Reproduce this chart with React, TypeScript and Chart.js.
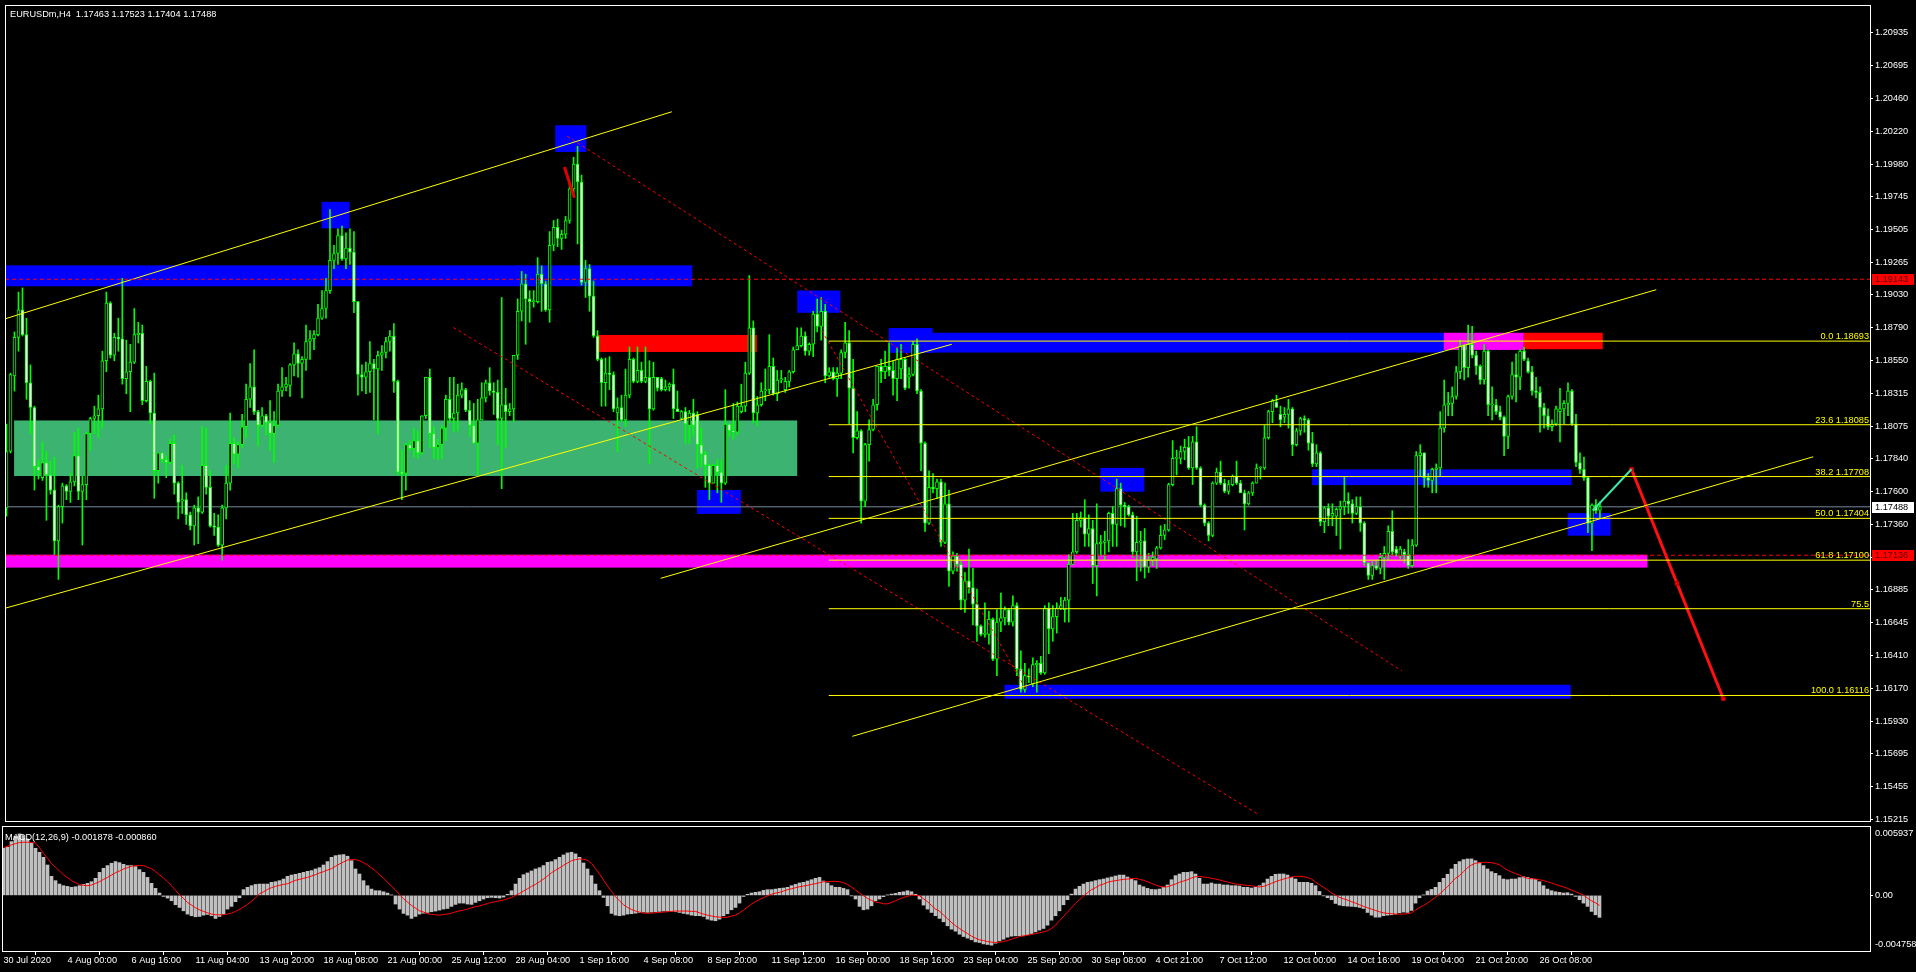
import React, { useEffect, useRef } from 'react';
import { Chart, registerables } from 'chart.js';

Chart.register(...registerables);

// EURUSDm H4 candles, prices in pips above 1.1000 (e.g. 746 -> 1.1746)
const opens = [
  748,789,844,872,892,874,839,821,778,770,781,772,761,724,749,764,760,767,786,760,
  765,802,813,815,820,855,897,859,872,871,842,847,854,874,875,826,840,817,775,788,
  783,781,795,766,753,754,743,735,748,745,779,763,735,734,721,748,766,795,787,794,
  807,827,836,818,808,815,810,802,808,833,836,837,852,860,853,856,869,871,874,886,
  893,906,928,933,946,929,937,934,898,845,843,847,853,849,859,861,869,873,840,774,
  773,794,791,797,788,815,843,802,792,794,806,827,813,817,830,834,819,808,795,812,
  828,839,833,832,813,823,818,820,859,891,911,900,898,898,918,911,892,939,952,944,
  947,957,980,998,985,912,922,902,873,856,839,846,845,817,821,812,830,856,840,848,
  840,843,820,843,842,834,836,838,820,813,818,808,817,816,794,787,779,766,779,774,
  766,809,804,803,818,822,846,879,817,823,833,834,851,831,841,834,840,847,863,866,
  873,862,867,889,880,891,844,847,842,846,861,868,835,799,804,753,794,805,823,851,
  847,851,848,842,849,856,843,845,867,833,795,737,763,762,767,723,751,702,713,707,
  681,695,690,678,662,656,656,667,638,665,668,674,665,677,631,616,626,620,634,635,
  628,675,660,669,675,674,681,707,716,739,741,729,733,706,722,723,724,744,736,762,
  750,749,743,716,723,724,705,710,711,719,728,732,765,784,784,789,792,777,796,777,
  750,737,728,766,774,766,760,765,771,766,759,751,759,766,777,777,799,818,825,816,
  814,816,820,794,804,813,812,795,780,788,738,748,742,742,747,749,753,751,744,749,
  737,708,699,706,704,712,715,731,718,713,716,714,706,721,786,788,770,768,776,777,
  806,823,824,829,847,866,850,867,859,851,841,862,823,823,818,814,800,829,845,843,
  862,855,847,833,832,821,815,807,809,818,820,824,833,809,781,776,770,737,750,746.3,
];
const highs = [
  809,846,876,905,908,886,852,822,783,796,789,782,785,750,766,765,773,803,806,771,
  803,814,822,830,862,905,898,875,886,915,870,867,893,883,881,851,841,846,788,788,
  786,798,801,767,779,759,745,750,756,807,806,775,744,743,750,779,817,799,796,816,
  838,853,863,819,821,816,826,818,838,850,843,853,868,863,858,881,877,877,896,906,
  915,965,939,951,953,948,951,949,898,852,854,869,856,862,866,872,877,882,841,790,
  795,797,806,804,815,843,849,807,798,808,830,843,843,838,839,835,826,824,827,839,
  841,850,839,841,901,835,824,859,900,920,918,906,906,930,924,913,949,957,958,950,
  960,985,1003,1011,990,928,925,913,877,857,857,858,847,828,830,849,865,857,865,854,
  865,855,854,843,843,841,839,849,833,819,821,819,827,818,806,789,780,780,783,783,
  834,809,824,825,838,854,917,884,829,839,849,874,857,848,848,843,848,865,879,879,
  876,868,891,900,901,896,850,850,850,863,883,877,856,818,805,795,812,827,851,856,
  862,868,855,864,867,857,850,869,871,834,796,775,773,769,769,766,761,716,715,709,
  701,718,704,689,663,679,673,668,674,686,676,675,684,679,644,635,631,639,637,640,
  677,679,677,679,683,683,714,744,744,745,754,743,739,751,728,731,745,749,769,766,
  752,750,745,742,731,733,715,716,720,735,736,766,797,790,793,798,800,800,807,778,
  751,738,767,777,782,769,768,772,782,768,761,760,767,780,778,808,819,827,830,822,
  821,827,821,806,814,815,813,803,794,789,749,751,751,748,753,771,759,754,756,756,
  738,708,709,710,715,720,735,746,720,720,718,725,725,789,794,788,773,777,780,818,
  841,832,836,851,870,867,881,880,862,852,867,863,836,827,822,815,830,854,860,863,
  865,857,851,843,836,824,820,812,822,835,826,839,834,816,788,785,771,751,754,752.3,
];
const lows = [
  742,788,833,862,873,827,802,761,769,768,739,758,714,696,737,754,752,764,754,721,
  754,790,802,799,806,847,857,855,862,838,831,818,853,868,823,825,809,755,766,781,
  770,780,758,740,744,736,732,721,722,744,758,734,728,720,710,740,761,780,777,792,
  799,821,816,793,807,801,790,781,807,829,833,829,844,843,828,848,856,863,873,885,
  886,904,922,925,928,922,925,890,830,833,831,832,812,802,848,857,862,832,772,754,
  761,790,785,784,787,813,792,784,783,784,797,810,803,804,828,818,800,795,772,812,
  825,830,816,794,762,792,815,811,856,884,867,883,894,897,891,891,883,935,938,936,
  944,955,975,940,910,901,891,872,855,822,822,834,818,789,811,807,828,839,839,839,
  839,780,819,833,833,833,833,813,818,812,795,795,800,777,778,763,754,766,759,752,
  765,800,798,801,817,818,845,810,808,822,826,831,830,826,839,832,836,846,863,865,
  859,859,858,876,870,839,843,841,829,842,857,809,788,798,737,749,782,804,819,839,
  842,844,830,826,842,834,835,844,831,775,731,736,759,755,720,722,691,700,702,674,
  672,686,663,651,655,654,649,637,626,658,663,663,662,626,614,614,621,618,614,627,
  627,642,651,657,674,665,665,707,715,734,720,720,693,684,713,710,716,720,720,735,
  734,742,712,695,702,697,701,706,704,718,725,731,764,772,780,783,776,765,776,749,
  735,724,727,765,765,759,758,764,765,759,732,750,757,766,769,776,798,810,821,807,
  810,806,786,793,801,803,790,778,778,735,730,735,735,728,718,743,744,737,743,731,
  706,696,696,703,700,696,710,713,713,711,708,704,705,720,771,763,763,759,759,771,
  803,815,815,827,842,841,843,857,845,838,838,815,812,816,812,786,791,827,825,834,
  855,846,830,828,803,806,805,804,808,796,809,815,808,778,773,768,730,717,744,740.4,
];
const closes = [
  789,845,872,892,874,839,821,778,775,781,772,761,724,749,764,760,767,786,760,765,
  802,813,815,820,855,897,859,872,871,842,847,854,874,875,826,840,817,775,788,783,
  781,795,766,752,754,743,735,748,745,779,763,735,734,721,748,766,795,787,794,807,
  827,836,818,808,815,810,802,808,833,836,838,852,860,853,856,869,871,874,886,893,
  906,928,933,946,929,937,934,898,845,843,847,853,849,859,861,869,873,840,774,773,
  794,791,797,788,815,843,802,792,794,806,827,813,817,830,834,819,808,795,812,828,
  839,833,832,813,823,818,820,859,891,911,900,898,898,918,911,892,939,952,944,947,
  957,980,998,985,912,922,902,873,856,839,846,845,820,821,812,830,856,840,848,840,
  843,820,843,835,834,836,838,820,818,818,809,817,808,794,787,779,766,779,774,766,
  809,804,803,822,822,846,879,817,823,833,834,851,831,841,842,840,847,863,866,873,
  862,867,889,880,891,844,847,842,846,861,868,835,799,804,753,794,805,823,851,847,
  851,848,842,856,856,835,845,867,833,795,737,763,762,767,723,751,702,713,707,681,
  695,690,678,662,656,657,667,638,665,668,674,665,677,631,616,626,625,634,635,628,
  675,660,669,675,677,681,707,716,739,741,729,733,706,722,723,724,744,736,762,750,
  749,743,716,723,724,705,710,712,719,728,732,765,784,784,789,792,777,796,777,750,
  737,728,766,774,766,760,765,771,766,759,751,759,766,777,777,799,818,826,821,812,
  816,820,794,804,813,812,795,780,788,738,748,742,744,747,749,753,751,744,749,737,
  708,699,706,704,712,715,731,716,715,718,714,706,721,786,788,770,768,776,777,806,
  823,824,829,847,866,850,867,859,851,841,862,823,823,818,814,800,829,845,843,862,
  856,847,833,832,821,815,807,809,820,820,824,833,809,781,776,770,737,750,746,748.8,
];

// MACD(12,26,9) main histogram per bar, in millionths
const macdHistogram = [
  4030,4120,4600,5060,5260,5120,4830,4490,4030,3690,3260,2600,1630,1260,970,830,770,690,740,830,
  940,1030,1170,1460,1970,2320,2550,2750,2890,2800,2660,2550,2550,2460,2200,1970,1540,1030,600,200,
  -90,-230,-460,-800,-1030,-1320,-1600,-1740,-1830,-1800,-1690,-1630,-1740,-1970,-1800,-1600,-1170,-940,-540,-200,
  490,690,830,940,970,970,970,1120,1170,1260,1400,1630,1740,1800,1890,1970,2060,2120,2260,2370,
  2600,2890,3260,3400,3460,3490,3350,2970,2260,1830,1260,830,540,400,400,310,200,30,-740,-1170,
  -1540,-1690,-1970,-1800,-1600,-1520,-1460,-1400,-1340,-1260,-1170,-1120,-940,-770,-660,-660,-740,-770,-600,-460,
  -310,-200,-170,-200,-230,-140,90,400,970,1460,1770,1920,2090,2260,2370,2550,2830,2890,3060,3260,
  3460,3630,3690,3550,3260,2770,2260,1690,970,400,-170,-890,-1540,-1690,-1740,-1690,-1600,-1570,-1520,-1460,
  -1430,-1460,-1430,-1400,-1370,-1340,-1340,-1370,-1400,-1460,-1540,-1600,-1690,-1740,-1740,-1800,-2030,-2120,-2170,-2030,
  -1740,-1570,-1230,-1030,-660,-90,90,200,260,310,430,490,490,540,600,630,690,830,940,1060,
  1120,1230,1340,1460,1540,1230,1060,830,690,690,600,490,-30,-310,-940,-1230,-1170,-890,-460,-310,
  -110,30,110,170,260,310,400,310,90,-310,-830,-1170,-1460,-1740,-1970,-2260,-2600,-2890,-3060,-3320,
  -3520,-3660,-3800,-3980,-4030,-4150,-4200,-4260,-4090,-3890,-3750,-3580,-3490,-3460,-3460,-3460,-3370,-3260,-3120,-2970,
  -2830,-2550,-2120,-1740,-1320,-800,-370,110,540,770,970,1120,1170,1260,1340,1400,1490,1570,1660,1740,
  1740,1570,1400,1260,890,740,600,510,490,540,690,890,1340,1690,1830,1970,1970,2030,1830,1460,
  970,970,1060,970,970,890,890,830,830,800,690,690,630,690,830,1060,1400,1630,1800,1830,
  1830,1740,1540,1400,1120,1120,1120,1030,830,340,-30,-200,-370,-690,-830,-890,-920,-940,-970,-1030,
  -1120,-1460,-1690,-1860,-1860,-1740,-1690,-1660,-1600,-1490,-1430,-1460,-1290,-660,-200,30,370,510,690,1120,
  1460,1800,2260,2660,2890,3060,3120,3120,2970,2800,2550,2260,2030,1890,1690,1400,1340,1400,1400,1520,
  1600,1540,1460,1370,1170,830,540,400,310,260,200,230,110,-90,-370,-660,-940,-1370,-1660,-1878,
];
// MACD signal line per bar, in millionths
const macdSignalLine = [
  4090,4200,4320,4430,4520,4550,4550,4520,4490,4090,3600,3170,2720,2400,2090,1770,1520,1260,1090,920,
  860,830,890,1030,1170,1370,1540,1740,1940,2090,2260,2370,2490,2550,2550,2550,2400,2290,2030,1770,
  1490,1170,830,430,60,-260,-600,-830,-1060,-1230,-1370,-1490,-1600,-1660,-1660,-1660,-1600,-1520,-1370,-1200,
  -1000,-770,-510,-200,140,310,510,660,770,860,940,1000,1140,1290,1370,1460,1540,1660,1770,1920,
  2030,2170,2290,2490,2690,2860,3030,3060,3060,2970,2800,2600,2350,2090,1770,1460,1120,800,460,60,
  -290,-570,-860,-1090,-1320,-1430,-1570,-1630,-1660,-1690,-1630,-1600,-1520,-1400,-1320,-1260,-1170,-1060,-970,-890,
  -800,-690,-600,-540,-460,-400,-290,-170,0,170,370,570,770,940,1170,1400,1660,1940,2150,2350,
  2570,2770,2970,3060,3120,3090,3000,2750,2290,1830,1320,800,340,-110,-460,-800,-1030,-1200,-1340,-1430,
  -1520,-1520,-1520,-1490,-1460,-1430,-1400,-1370,-1340,-1340,-1340,-1340,-1370,-1370,-1490,-1600,-1690,-1770,-1830,-1860,
  -1890,-1860,-1770,-1690,-1490,-1260,-1000,-740,-540,-340,-200,-30,90,200,260,370,490,570,660,740,
  800,860,940,1000,1090,1170,1170,1200,1200,1170,1090,920,720,460,200,-30,-260,-430,-570,-630,
  -720,-720,-600,-460,-310,-170,-90,30,0,-30,-290,-540,-860,-1170,-1340,-1690,-2000,-2320,-2600,-2830,
  -3060,-3260,-3490,-3660,-3800,-3860,-3950,-4000,-4030,-4000,-3950,-3860,-3750,-3630,-3520,-3460,-3400,-3350,-3260,-3200,
  -3120,-3030,-2830,-2550,-2170,-1800,-1430,-1060,-690,-370,-60,230,490,660,860,970,1120,1200,1260,1320,
  1370,1400,1430,1460,1370,1290,1170,1030,890,770,720,740,860,970,1120,1230,1340,1490,1600,1630,
  1570,1540,1460,1400,1320,1230,1140,1060,970,940,890,860,830,770,720,770,890,1030,1170,1290,
  1400,1490,1570,1630,1630,1600,1540,1400,1140,920,690,460,200,30,-170,-290,-400,-540,-660,-800,
  -940,-1060,-1170,-1290,-1400,-1490,-1540,-1570,-1600,-1600,-1600,-1570,-1490,-1260,-1030,-860,-660,-400,-170,110,
  430,740,1120,1460,1690,2030,2370,2600,2750,2800,2830,2830,2800,2720,2630,2370,2170,2000,1860,1740,
  1570,1460,1430,1400,1340,1260,1170,1060,940,830,720,600,460,310,170,30,-230,-460,-630,-860,
];

// time axis captions, one every 16 bars
const timeLabels = [
  '30 Jul 2020', '4 Aug 00:00', '6 Aug 16:00', '11 Aug 04:00', '13 Aug 20:00',
  '18 Aug 08:00', '21 Aug 00:00', '25 Aug 12:00', '28 Aug 04:00', '1 Sep 16:00',
  '4 Sep 08:00', '8 Sep 20:00', '11 Sep 12:00', '16 Sep 00:00', '18 Sep 16:00',
  '23 Sep 04:00', '25 Sep 20:00', '30 Sep 08:00', '4 Oct 21:00', '7 Oct 12:00',
  '12 Oct 00:00', '14 Oct 16:00', '19 Oct 04:00', '21 Oct 20:00', '26 Oct 08:00',
];
const TIME_LABEL_STEP = 16;

const priceTicks = [
  1.20935, 1.20695, 1.2046, 1.2022, 1.1998, 1.19745, 1.19505, 1.19265, 1.1903,
  1.1879, 1.1855, 1.18315, 1.18075, 1.1784, 1.176, 1.1736, 1.1712, 1.16885,
  1.16645, 1.1641, 1.1617, 1.1593, 1.15695, 1.15455, 1.15215,
];

// Fibonacci retracement of the 1.18693 -> 1.16116 swing
const fibPrices = [1.18693, 1.18085, 1.17708, 1.17404, 1.171, 1.16747, 1.16116];
const fibTexts = ['0.0 1.18693', '23.6 1.18085', '38.2 1.17708', '50.0 1.17404', '61.8 1.17100', '75.5', '100.0 1.16116'];
const FIB_FROM_BAR = 205.9;

// supply / demand zones: [fromBar, toBar, lowPrice, highPrice]
const greenZones = [[1.9, 198, 1.17712, 1.18116]];
const blueZones = [
  [-1, 171.7, 1.19092, 1.19244],
  [78.9, 85.9, 1.19513, 1.19706],
  [137.4, 145.2, 1.20068, 1.20263],
  [172.9, 183.9, 1.17437, 1.1761],
  [198, 208.8, 1.18899, 1.19061],
  [220.9, 231.9, 1.18608, 1.18788],
  [223.9, 360, 1.1861, 1.18754],
  [273.9, 284.9, 1.17598, 1.17771],
  [326.9, 391.9, 1.17646, 1.1776],
  [390.9, 401.7, 1.17278, 1.17442],
  [249.9, 391.7, 1.16092, 1.16194],
];
const redZones = [
  [147.9, 187.9, 1.18614, 1.18738],
  [379.9, 399.7, 1.18634, 1.18754],
];
const magentaZones = [
  [-1, 410.9, 1.17046, 1.1714],
  [359.9, 379.9, 1.18629, 1.18754],
];

// trend channels: [bar, price, bar, price]
const channelLines = [
  [-0.8, 1.18851, 166.6, 1.20361],
  [-0.8, 1.16747, 236.7, 1.1867],
  [163.8, 1.16968, 413.1, 1.19067],
  [211.8, 1.15819, 452.4, 1.17852],
];
const dottedTrendLines = [
  [140.4, 1.20183, 349.4, 1.16295],
  [111.9, 1.18792, 313.7, 1.15247],
  [204.2, 1.18767, 255.2, 1.16165],
];

const resistancePrice = 1.19143;
const supportPrice = 1.17136;
const bidPrice = 1.17488;

const spikeBars = [139.7, 142.2];
const spikePrices = [1.19959, 1.19735];
const bounceBars = [397.2, 406.9];
const bouncePrices = [1.17461, 1.17761];
const targetBars = [406.9, 418.3, 429.9];
const targetPrices = [1.17761, 1.16931, 1.16092];

const quoteHeader = 'EURUSDm,H4  1.17463 1.17523 1.17404 1.17488';
const macdHeader = 'MACD(12,26,9) -0.001878 -0.000860';
const macdAxisTexts = ['0.005937', '0.00', '-0.004758'];
const MACD_MAX = 0.005937;
const MACD_MIN = -0.004758;

// ---- layout ----
const W = 1916;
const MAIN_H = 826;
const MACD_H = 146;
const AXIS_W = 46;
const X_MIN = -0.375;
const X_MAX = 466.625;
const P_MAX = 1.211374;
const P_MIN = 1.152032;
const FONT_FAMILY = '"Liberation Sans", Arial, sans-serif';
const FONT_SIZE = 9.2;
const FONT = `${FONT_SIZE}px ${FONT_FAMILY}`;

const toPrice = (pips: number) => 1.1 + pips / 10000;
const N = Math.min(opens.length, highs.length, lows.length, closes.length);

function line(xs: number[], ys: number[], color: string, width = 1, dash: number[] = [], order = 0) {
  return {
    type: 'line' as const,
    data: xs.map((x, k) => ({ x, y: ys[k] })),
    borderColor: color,
    borderWidth: width,
    borderDash: dash,
    pointRadius: 0,
    fill: false,
    tension: 0,
    order,
  };
}

const zonePlugin = {
  id: 'zones',
  beforeDatasetsDraw(chart: any) {
    const { ctx, chartArea: a, scales } = chart;
    const x = scales.x;
    const y = scales.y;
    ctx.save();
    ctx.beginPath();
    ctx.rect(a.left, a.top, a.right - a.left, a.bottom - a.top);
    ctx.clip();
    const sets: [number[][], string][] = [
      [greenZones, '#3CB371'],
      [blueZones, '#0000FF'],
      [redZones, '#FF0000'],
      [magentaZones, '#FF00FF'],
    ];
    for (const [zones, color] of sets) {
      ctx.fillStyle = color;
      for (const [b0, b1, lo, hi] of zones) {
        const x0 = x.getPixelForValue(b0);
        const x1 = x.getPixelForValue(b1);
        const y0 = y.getPixelForValue(hi);
        const y1 = y.getPixelForValue(lo);
        ctx.fillRect(x0, y0, x1 - x0, y1 - y0);
      }
    }
    ctx.restore();
  },
};

function frame(ctx: CanvasRenderingContext2D, a: any) {
  ctx.strokeStyle = '#FFFFFF';
  ctx.lineWidth = 1;
  ctx.strokeRect(a.left + 0.5, a.top + 0.5, a.right - a.left, a.bottom - a.top);
}

const mainOverlay = {
  id: 'mainOverlay',
  afterDraw(chart: any) {
    const { ctx, chartArea: a, scales } = chart;
    const y = scales.y;
    ctx.save();
    frame(ctx, a);
    ctx.font = FONT;
    ctx.textBaseline = 'alphabetic';
    ctx.textAlign = 'left';
    ctx.fillStyle = '#FFFFFF';
    ctx.fillText(quoteHeader, a.left + 5, a.top + 12);
    ctx.fillStyle = '#FFFF00';
    ctx.textAlign = 'right';
    fibPrices.forEach((p, k) => ctx.fillText(fibTexts[k], a.right - 1, y.getPixelForValue(p) - 2));
    const boxes: [number, string, string][] = [
      [resistancePrice, '#FF0000', '#5A0000'],
      [supportPrice, '#FF0000', '#5A0000'],
      [bidPrice, '#FFFFFF', '#000000'],
    ];
    ctx.textAlign = 'left';
    ctx.textBaseline = 'middle';
    for (const [p, bg, fg] of boxes) {
      const py = Math.round(y.getPixelForValue(p));
      ctx.fillStyle = bg;
      ctx.fillRect(a.right + 2, py - 5, 42, 11);
      ctx.fillStyle = fg;
      ctx.fillText(p.toFixed(5), a.right + 5, py + 0.5);
    }
    ctx.restore();
  },
};

const macdOverlay = {
  id: 'macdOverlay',
  afterDraw(chart: any) {
    const { ctx, chartArea: a } = chart;
    ctx.save();
    frame(ctx, a);
    ctx.font = FONT;
    ctx.fillStyle = '#FFFFFF';
    ctx.textAlign = 'left';
    ctx.textBaseline = 'alphabetic';
    ctx.fillText(macdHeader, a.left + 3, a.top + 14);
    ctx.restore();
  },
};

function buildMain(canvas: HTMLCanvasElement) {
  const idx = Array.from({ length: N }, (_, i) => i);
  const wicks = {
    type: 'bar' as const,
    data: idx.map((i) => ({ x: i, y: [toPrice(lows[i]), toPrice(highs[i])] })),
    backgroundColor: '#00FF00',
    borderWidth: 0,
    barThickness: 1,
    minBarLength: 1,
    grouped: false,
    order: 2,
  };
  const bodies = {
    type: 'bar' as const,
    data: idx.map((i) => ({ x: i, y: [toPrice(opens[i]), toPrice(closes[i])] })),
    backgroundColor: idx.map((i) => (closes[i] >= opens[i] ? '#000000' : '#FFFFFF')),
    borderColor: '#00FF00',
    borderWidth: 1,
    borderSkipped: false,
    barThickness: 3,
    minBarLength: 1,
    grouped: false,
    order: 1,
  };
  const full = [X_MIN, X_MAX];
  const datasets: any[] = [
    line(full, [bidPrice, bidPrice], '#778899', 1, [], 3),
    line(full, [resistancePrice, resistancePrice], '#FF0000', 1, [4, 3]),
    line(full, [supportPrice, supportPrice], '#FF0000', 1, [4, 3]),
    ...fibPrices.map((p) => line([FIB_FROM_BAR, X_MAX], [p, p], '#FFFF00')),
    ...channelLines.map(([b0, p0, b1, p1]) => line([b0, b1], [p0, p1], '#FFFF00')),
    ...dottedTrendLines.map(([b0, p0, b1, p1]) => line([b0, b1], [p0, p1], '#FF0000', 1, [3, 3])),
    line(spikeBars, spikePrices, '#E00000', 3),
    line(bounceBars, bouncePrices, '#3CE8A8', 2),
    {
      ...line(targetBars, targetPrices, '#FF1010', 3),
      pointRadius: 2.5,
      pointStyle: 'rect',
      pointBackgroundColor: '#FF0000',
      pointBorderColor: '#B00000',
      pointBorderWidth: 1,
    },
    bodies,
    wicks,
  ];
  return new Chart(canvas, {
    type: 'bar',
    data: { datasets },
    options: {
      animation: false,
      responsive: false,
      devicePixelRatio: 1,
      events: [],
      layout: { padding: { left: 2, top: 2, right: 0, bottom: 3 } },
      plugins: { legend: { display: false }, tooltip: { enabled: false } },
      scales: {
        x: { type: 'linear', min: X_MIN, max: X_MAX, display: false, offset: false },
        y: {
          type: 'linear',
          position: 'right',
          min: P_MIN,
          max: P_MAX,
          afterFit: (s: any) => {
            s.width = AXIS_W;
            s.paddingTop = 0;
            s.paddingBottom = 0;
          },
          afterBuildTicks: (s: any) => {
            s.ticks = priceTicks.map((value) => ({ value }));
          },
          ticks: {
            autoSkip: false,
            color: '#FFFFFF',
            font: { family: FONT_FAMILY, size: FONT_SIZE },
            padding: 2,
            callback: (v: any) => Number(v).toFixed(5),
          },
          grid: { drawOnChartArea: false, drawTicks: true, tickLength: 3, tickColor: '#FFFFFF' },
          border: { display: false },
        },
      },
    } as any,
    plugins: [zonePlugin, mainOverlay],
  });
}

function buildMacd(canvas: HTMLCanvasElement) {
  const count = Math.min(N, macdHistogram.length, macdSignalLine.length);
  const idx = Array.from({ length: count }, (_, i) => i);
  const range = MACD_MAX - MACD_MIN;
  return new Chart(canvas, {
    type: 'bar',
    data: {
      datasets: [
        {
          type: 'line',
          data: idx.map((i) => ({ x: i, y: macdSignalLine[i] / 1e6 })),
          borderColor: '#FF0000',
          borderWidth: 1,
          pointRadius: 0,
          tension: 0,
          fill: false,
          order: 0,
        },
        {
          type: 'bar',
          data: idx.map((i) => ({ x: i, y: macdHistogram[i] / 1e6 })),
          backgroundColor: '#C0C0C0',
          borderWidth: 0,
          barThickness: 3,
          grouped: false,
          order: 1,
        },
      ] as any,
    },
    options: {
      animation: false,
      responsive: false,
      devicePixelRatio: 1,
      events: [],
      layout: { padding: { left: 2, top: 0, right: 0, bottom: 0 } },
      plugins: { legend: { display: false }, tooltip: { enabled: false } },
      scales: {
        x: {
          type: 'linear',
          position: 'bottom',
          min: X_MIN,
          max: X_MAX,
          offset: false,
          afterFit: (s: any) => {
            s.height = 21;
            s.paddingLeft = 0;
            s.paddingRight = 0;
          },
          afterBuildTicks: (s: any) => {
            s.ticks = timeLabels.map((_, k) => ({ value: k * TIME_LABEL_STEP }));
          },
          ticks: {
            autoSkip: false,
            maxRotation: 0,
            minRotation: 0,
            align: 'start',
            color: '#FFFFFF',
            font: { family: FONT_FAMILY, size: FONT_SIZE },
            padding: 0,
            callback: (_v: any, k: number) => timeLabels[k],
          },
          grid: { drawOnChartArea: false, drawTicks: true, tickLength: 4, tickColor: '#FFFFFF' },
          border: { display: false },
        },
        y: {
          type: 'linear',
          position: 'right',
          min: MACD_MIN,
          max: MACD_MAX,
          afterFit: (s: any) => {
            s.width = AXIS_W;
            s.paddingTop = 0;
            s.paddingBottom = 0;
          },
          afterBuildTicks: (s: any) => {
            const h = s.bottom - s.top || 125;
            s.ticks = [
              { value: MACD_MAX - (7 / h) * range },
              { value: 0 },
              { value: MACD_MIN + (6.5 / h) * range },
            ];
          },
          ticks: {
            autoSkip: false,
            color: '#FFFFFF',
            font: { family: FONT_FAMILY, size: FONT_SIZE },
            padding: 2,
            callback: (_v: any, k: number) => macdAxisTexts[k],
          },
          grid: {
            drawOnChartArea: false,
            drawTicks: true,
            tickLength: 3,
            tickColor: (c: any) => (c.index === 1 ? '#FFFFFF' : 'rgba(0,0,0,0)'),
          },
          border: { display: false },
        },
      },
    } as any,
    plugins: [macdOverlay],
  });
}

export default function App() {
  const mainRef = useRef<HTMLCanvasElement>(null);
  const macdRef = useRef<HTMLCanvasElement>(null);
  useEffect(() => {
    document.body.style.margin = '0';
    document.body.style.background = '#000';
    const charts = [buildMain(mainRef.current!), buildMacd(macdRef.current!)];
    return () => charts.forEach((c) => c.destroy());
  }, []);
  return (
    <div style={{ position: 'relative', width: W, height: 972, background: '#000', overflow: 'hidden' }}>
      <canvas ref={mainRef} width={W} height={MAIN_H} style={{ position: 'absolute', left: 0, top: 0, width: W, height: MAIN_H }} />
      <canvas ref={macdRef} width={W} height={MACD_H} style={{ position: 'absolute', left: 0, top: MAIN_H, width: W, height: MACD_H }} />
    </div>
  );
}
